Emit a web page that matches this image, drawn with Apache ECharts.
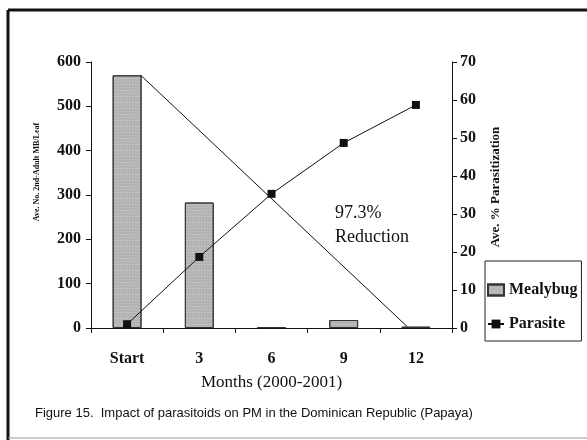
<!DOCTYPE html>
<html><head><meta charset="utf-8">
<script src="https://cdn.jsdelivr.net/npm/echarts@6/dist/echarts.min.js"></script>
<style>html,body{margin:0;padding:0;background:#fff}#c{width:587px;height:440px}</style>
</head><body><div id="c"></div>
<script>
var categories = ['Start', '3', '6', '9', '12'];
var mealybug = [570, 283, 2, 18, 3];
var parasite = [1, 18.7, 35.3, 48.7, 58.7];
// hand-drawn reduction trend line (category position, mealybug value)
var trendLine = [[0.19, 570], [3.88, 3]];
var leftTicks = [0, 600, 100];
var rightTicks = [0, 70, 10];

var serif = '"Liberation Serif", "DejaVu Serif", serif';
var gridBox = {left: 91, right: 135, top: 62, bottom: 112, containLabel: false};
var chart = echarts.init(document.getElementById('c'));
chart.setOption({
  animation: false,
  backgroundColor: '#fff',
  grid: [gridBox, Object.assign({}, gridBox)],
  xAxis: [{
    type: 'category', data: categories, gridIndex: 0,
    axisLine: {lineStyle: {color: '#111', width: 1}},
    axisTick: {show: true, inside: false, length: 5, lineStyle: {color: '#111'}},
    axisLabel: {fontFamily: serif, fontWeight: 'bold', fontSize: 16, color: '#111', margin: 23},
    name: 'Months (2000-2001)', nameLocation: 'middle', nameGap: 46,
    nameTextStyle: {fontFamily: serif, fontSize: 17, color: '#111'}
  }, {
    type: 'value', min: -0.5, max: 4.5, gridIndex: 1, show: false
  }],
  yAxis: [{
    type: 'value', min: leftTicks[0], max: leftTicks[1], interval: leftTicks[2], gridIndex: 0,
    axisLine: {show: true, lineStyle: {color: '#111'}},
    axisTick: {show: true, length: 5, lineStyle: {color: '#111'}},
    splitLine: {show: false},
    axisLabel: {fontFamily: serif, fontWeight: 'bold', fontSize: 16, color: '#111', margin: 10}
  }, {
    type: 'value', position: 'right', min: rightTicks[0], max: rightTicks[1], interval: rightTicks[2], gridIndex: 0,
    axisLine: {show: true, lineStyle: {color: '#111'}},
    axisTick: {show: true, length: 5, lineStyle: {color: '#111'}},
    splitLine: {show: false},
    axisLabel: {fontFamily: serif, fontWeight: 'bold', fontSize: 16, color: '#111', margin: 8}
  }, {
    type: 'value', min: leftTicks[0], max: leftTicks[1], gridIndex: 1, show: false
  }],
  legend: {
    orient: 'vertical', left: 485, top: 261,
    padding: [21, 4, 9, 2], itemGap: 18, itemWidth: 16, itemHeight: 11,
    borderColor: '#222', borderWidth: 1, backgroundColor: '#fff',
    textStyle: {fontFamily: serif, fontWeight: 'bold', fontSize: 16, color: '#111'},
    data: [{name: 'Mealybug', icon: 'rect'}, {name: 'Parasite'}]
  },
  series: [{
    name: 'Mealybug', type: 'bar', data: mealybug, barWidth: '40%',
    itemStyle: {color: '#b3b3b3', borderColor: '#333', borderWidth: 1,
      decal: {symbol: 'rect', symbolSize: 1, dashArrayX: [[1, 2], [2, 1]], dashArrayY: [1, 2], color: 'rgba(255,255,255,0.25)'}}
  }, {
    name: 'Parasite', type: 'line', yAxisIndex: 1, data: parasite,
    symbol: 'rect', symbolSize: 8,
    lineStyle: {color: '#111', width: 1}, itemStyle: {color: '#111'}
  }, {
    name: 'trend', type: 'line', xAxisIndex: 1, yAxisIndex: 2, data: trendLine,
    symbol: 'none', lineStyle: {color: '#111', width: 1}, silent: true
  }],
  graphic: [
    {type: 'text', x: 37, y: 172, rotation: Math.PI / 2, style: {text: 'Ave. No. 2nd-Adult MB/Leaf', font: 'bold 8px ' + serif, fill: '#111', align: 'center', verticalAlign: 'middle'}},
    {type: 'text', x: 496, y: 187, rotation: Math.PI / 2, style: {text: 'Ave. % Parasitization', font: 'bold 13px ' + serif, fill: '#111', align: 'center', verticalAlign: 'middle'}},
    {type: 'text', left: 335, top: 201, style: {text: '97.3%\nReduction', font: '18px ' + serif, fill: '#111', lineHeight: 24}},
    {type: 'text', left: 35, top: 407, style: {text: 'Figure 15.  Impact of parasitoids on PM in the Dominican Republic (Papaya)', font: '13px "Liberation Sans", Arial, sans-serif', fill: '#111'}},
    {type: 'line', shape: {x1: 8, y1: 10, x2: 587, y2: 10}, style: {stroke: '#111', lineWidth: 3}},
    {type: 'line', shape: {x1: 8, y1: 10, x2: 8, y2: 440}, style: {stroke: '#111', lineWidth: 3}},
    {type: 'line', shape: {x1: 8, y1: 438, x2: 587, y2: 438}, style: {stroke: '#999', lineWidth: 1}}
  ]
});
</script></body></html>
